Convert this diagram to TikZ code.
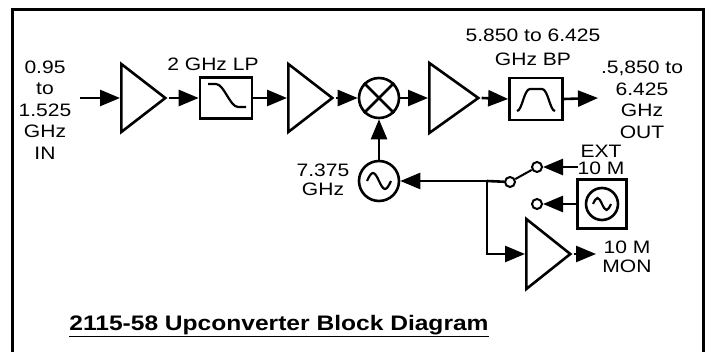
\documentclass[tikz,border=0pt]{standalone}
\usepackage{fontspec}
\setmainfont{Liberation Sans}[FakeStretch=1.17]
\usetikzlibrary{arrows.meta,shapes.geometric}
\begin{document}
\begin{tikzpicture}[x=1pt,y=-1pt,line width=2.6pt,
	arr/.style={-{Triangle[length=20pt,width=16pt]}},
	amp/.style={draw,isosceles triangle,isosceles triangle stretches,inner sep=0pt,anchor=west},
	filt/.style={draw,inner sep=0pt,minimum width=52pt,minimum height=41pt},
	contact/.style={draw,circle,inner sep=0pt,minimum size=10pt,line width=2pt},
	lbl/.style={align=center,inner sep=0pt,font=\fontsize{18}{21.5}\selectfont}]
	\useasboundingbox (0,0) rectangle (706,352);
	\draw [line width=3pt] (12,352) -- (12,10) -- (703,10) -- (703,352);
	\coordinate (in) at (80,98);
	\node [amp,minimum width=68pt,minimum height=44pt] (amp1) at (120,98) {};
	\node [filt] (lp) at (226,98) {};
	\node [amp,minimum width=68pt,minimum height=44pt] (amp2) at (287,98) {};
	\node [draw,circle,inner sep=0pt,minimum size=40pt] (mix) at (379,98) {};
	\node [amp,minimum width=70pt,minimum height=49pt] (amp3) at (428,98) {};
	\node [filt,minimum width=53pt,minimum height=42pt] (bp) at (536,99) {};
	\coordinate (out) at (598,98);
	\node [draw,circle,inner sep=0pt,minimum size=40pt] (lo) at (379,181) {};
	\coordinate (j) at (487,181);
	\node [contact] (swp) at (510,182) {};
	\node [contact] (swa) at (537,167) {};
	\node [contact] (swb) at (537,204) {};
	\coordinate (ext) at (578,167);
	\node [draw,inner sep=0pt,minimum size=49pt] (osc) at (602,204) {};
	\node [draw,circle,inner sep=0pt,minimum size=32pt] (oscc) at (osc.center) {};
	\node [amp,minimum width=70pt,minimum height=44pt] (amp4) at (525,254) {};
	\coordinate (mon) at (596,254);
	\draw [line width=2.2pt,shift={(lp.center)}] (-18,-14) -- (-10,-14) .. controls (-2,-14) and (4,9) .. (12,9) -- (20,9);
	\draw [line width=2.2pt,shift={(bp.center)}] (-19,12) .. controls (-14,12) and (-12,-10) .. (-6,-10) -- (6,-10) .. controls (12,-10) and (14,12) .. (19,12);
	\draw (mix.north west) -- (mix.south east) (mix.north east) -- (mix.south west);
	\draw [line width=2.2pt,shift={(lo.center)}] (-12,0) sin (-6,-8) cos (0,0) sin (6,8) cos (12,0);
	\draw [line width=2.2pt,shift={(oscc.center)}] (-9,0) sin (-4.5,-6) cos (0,0) sin (4.5,6) cos (9,0);
	\draw [arr] (in) -- (amp1.west);
	\draw [arr] (amp1.apex) -- (lp.west);
	\draw [arr] (lp.east) -- (amp2.west);
	\draw [arr] (amp2.apex) -- (mix.west);
	\draw [arr] (mix.east) -- (amp3.west);
	\draw [arr] (amp3.apex) -- (bp.west);
	\draw [arr] (bp.east) -- (out);
	\draw [arr] (lo) -- (mix);
	\draw [arr] (j) -- (lo);
	\draw (j) -- (swp);
	\draw [line width=2pt] (swp) -- (swa);
	\draw [arr] (ext) -- (swa);
	\draw [arr] (osc.west |- swb) -- (swb);
	\draw [arr] (j) |- (amp4.west);
	\draw [arr] (amp4.apex) -- (mon);
	\node [lbl] (inlbl) at (45,110) {0.95\\to\\1.525\\GHz\\IN};
	\node [lbl] (lplbl) at (213,64) {2 GHz LP};
	\node [lbl] (bplbl) at (533,47) {5.850 to 6.425\\[2.5pt]GHz BP};
	\node [lbl] (outlbl) at (642,100) {.5,850 to\\6.425\\GHz\\OUT};
	\node [lbl] (lolbl) at (323,180) {7.375\\[-2.5pt]GHz};
	\node [lbl] (extlbl) at (601,160) {EXT\\[-4.5pt]10 M};
	\node [lbl] (monlbl) at (627,257) {10 M\\[-2.5pt]MON};
	\node [inner sep=0pt,font=\fontsize{21}{25}\selectfont\bfseries] (title) at (279,326) {\underline{2115-58 Upconverter Block Diagram}};
\end{tikzpicture}
\end{document}
